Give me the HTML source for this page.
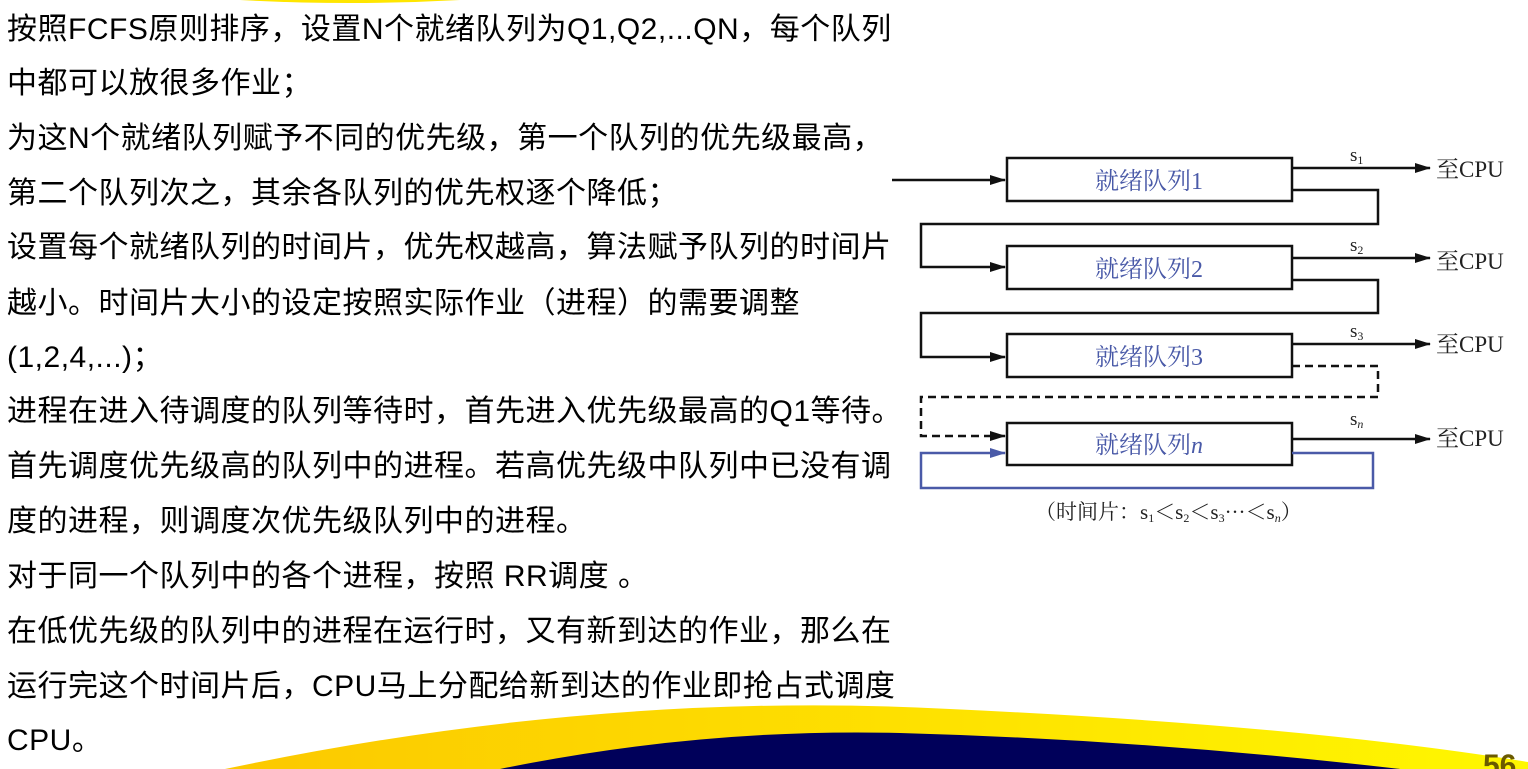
<!DOCTYPE html>
<html><head><meta charset="utf-8"><style>
html,body{margin:0;padding:0;background:#fff;width:1528px;height:769px;overflow:hidden;position:relative}
.t{position:absolute;left:7px;font-family:"Liberation Sans","Noto Sans CJK SC",sans-serif;font-size:30px;letter-spacing:0.5px;color:#000;white-space:nowrap;line-height:34px}
svg{position:absolute;left:0;top:0}
</style></head><body>
<svg width="1528" height="769" viewBox="0 0 1528 769">
<defs>
<linearGradient id="yg" x1="0" x2="1" y1="0" y2="0"><stop offset="0" stop-color="#fcc800"/><stop offset="1" stop-color="#fff700"/></linearGradient>
<marker id="a" markerWidth="16" markerHeight="10" refX="15" refY="5" orient="auto" markerUnits="userSpaceOnUse"><path d="M0,0 L16,5 L0,10 z" fill="#111"/></marker>
<marker id="ab" markerWidth="16" markerHeight="10" refX="15" refY="5" orient="auto" markerUnits="userSpaceOnUse"><path d="M0,0 L16,5 L0,10 z" fill="#4a5aa8"/></marker>
</defs>
<path d="M240,0 Q350,6 460,0 Z" fill="#ffe600"/>
<path d="M225,769 Q600,690 950,709 Q1300,725 1528,762 L1528,769 Z" fill="url(#yg)"/>
<path d="M500,769 Q700,728 900,733 Q1150,740 1400,769 Z" fill="#00005a"/>
<text x="1483" y="775" font-family="Liberation Sans" font-weight="bold" font-size="30" fill="#6b5a00">56</text>
<g stroke="#111" stroke-width="2.5" fill="none">
<rect x="1007" y="158" width="285" height="43"/>
<rect x="1007" y="246" width="285" height="43"/>
<rect x="1007" y="334" width="285" height="43"/>
<rect x="1007" y="423" width="285" height="42"/>
<line x1="892" y1="180" x2="1005" y2="180" marker-end="url(#a)"/>
<line x1="1292" y1="168" x2="1430" y2="168" marker-end="url(#a)"/>
<line x1="1292" y1="258" x2="1430" y2="258" marker-end="url(#a)"/>
<line x1="1292" y1="344" x2="1430" y2="344" marker-end="url(#a)"/>
<line x1="1292" y1="439" x2="1430" y2="439" marker-end="url(#a)"/>
<polyline points="1292,190 1378,190 1378,224 921,224 921,267 1005,267" marker-end="url(#a)"/>
<polyline points="1292,280 1378,280 1378,313 921,313 921,357 1005,357" marker-end="url(#a)"/>
<polyline points="1292,366 1378,366 1378,397 921,397 921,436 1005,436" stroke-dasharray="8,5" marker-end="url(#a)"/>
<polyline points="1292,453 1373,453 1373,488 921,488 921,453 1005,453" stroke="#4a5aa8" marker-end="url(#ab)"/>
</g>
<g fill="#4a5aa8" font-size="24" text-anchor="middle" style="font-family:'Liberation Serif','Noto Serif CJK SC',serif">
<text x="1149" y="189">就绪队列1</text>
<text x="1149" y="277">就绪队列2</text>
<text x="1149" y="365">就绪队列3</text>
<text x="1149" y="453">就绪队列<tspan font-style="italic">n</tspan></text>
</g>
<g style="font-family:'Liberation Serif','Noto Serif CJK SC',serif" fill="#222" font-size="23">
<text x="1436" y="177">至CPU</text>
<text x="1436" y="269">至CPU</text>
<text x="1436" y="352">至CPU</text>
<text x="1436" y="446">至CPU</text>
<text x="1350" y="161" font-size="19">s<tspan font-size="12" dy="3">1</tspan></text>
<text x="1350" y="251" font-size="19">s<tspan font-size="12" dy="3">2</tspan></text>
<text x="1350" y="337" font-size="19">s<tspan font-size="12" dy="3">3</tspan></text>
<text x="1350" y="425" font-size="19">s<tspan font-size="12" dy="3" font-style="italic">n</tspan></text>
<text x="1035" y="519" font-size="21">（时间片：s<tspan font-size="12" dy="3">1</tspan><tspan dy="-3">＜s</tspan><tspan font-size="12" dy="3">2</tspan><tspan dy="-3">＜s</tspan><tspan font-size="12" dy="3">3</tspan><tspan dy="-3">···＜s</tspan><tspan font-size="12" dy="3" font-style="italic">n</tspan><tspan dy="-3">）</tspan></text>
</g>
</svg>
<div class="t" style="top:13px">按照FCFS原则排序，设置N个就绪队列为Q1,Q2,...QN，每个队列</div>
<div class="t" style="top:67px">中都可以放很多作业；</div>
<div class="t" style="top:122px">为这N个就绪队列赋予不同的优先级，第一个队列的优先级最高，</div>
<div class="t" style="top:177px">第二个队列次之，其余各队列的优先权逐个降低；</div>
<div class="t" style="top:231px">设置每个就绪队列的时间片，优先权越高，算法赋予队列的时间片</div>
<div class="t" style="top:287px">越小。时间片大小的设定按照实际作业（进程）的需要调整</div>
<div class="t" style="top:341px">(1,2,4,...)；</div>
<div class="t" style="top:395px">进程在进入待调度的队列等待时，首先进入优先级最高的Q1等待。</div>
<div class="t" style="top:450px">首先调度优先级高的队列中的进程。若高优先级中队列中已没有调</div>
<div class="t" style="top:505px">度的进程，则调度次优先级队列中的进程。</div>
<div class="t" style="top:560px">对于同一个队列中的各个进程，按照 RR调度 。</div>
<div class="t" style="top:615px">在低优先级的队列中的进程在运行时，又有新到达的作业，那么在</div>
<div class="t" style="top:670px">运行完这个时间片后，CPU马上分配给新到达的作业即抢占式调度</div>
<div class="t" style="top:724px">CPU。</div>
</body></html>
